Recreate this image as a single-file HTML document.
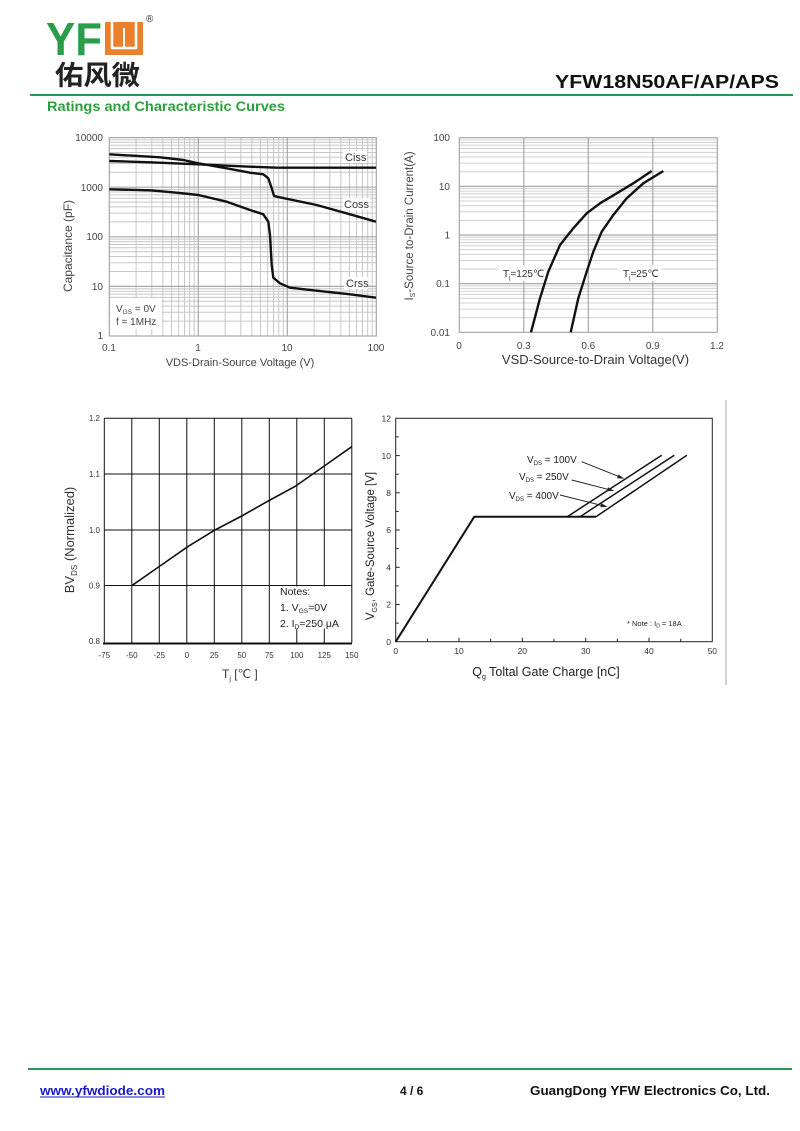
<!DOCTYPE html>
<html><head><meta charset="utf-8"><style>
html,body{margin:0;padding:0;background:#fff;}
svg{display:block;}
text{font-family:"Liberation Sans",Arial,sans-serif;}
</style></head><body>
<svg width="800" height="1131" viewBox="0 0 800 1131" xmlns="http://www.w3.org/2000/svg">
<rect width="800" height="1131" fill="#fff"/>

<!-- Header logo -->
<text x="46" y="55" font-size="46" font-weight="bold" fill="#2a9d48" textLength="56" lengthAdjust="spacingAndGlyphs">YF</text>
<rect x="105" y="22" width="38" height="33" fill="#ec7f2c"/>
<path d="M112,22 V48 H136 V22" fill="none" stroke="#fff" stroke-width="2.5"/>
<line x1="124" y1="28" x2="124" y2="48" stroke="#fff" stroke-width="2"/>
<text x="146" y="22" font-size="10" fill="#333">®</text>
<text x="55" y="85" font-size="27" font-weight="bold" fill="#222" style="font-family:'Noto Sans CJK SC','WenQuanYi Zen Hei',sans-serif" textLength="85" lengthAdjust="spacingAndGlyphs">佑风微</text>
<text x="555" y="88" font-size="18" font-weight="bold" fill="#111" textLength="224" lengthAdjust="spacingAndGlyphs">YFW18N50AF/AP/APS</text>
<line x1="30" y1="95" x2="793" y2="95" stroke="#1f9a55" stroke-width="2"/>
<text x="47" y="111" font-size="14" font-weight="bold" fill="#2f9e3f" textLength="238" lengthAdjust="spacingAndGlyphs">Ratings and Characteristic Curves</text>

<!-- ============ Chart 1: Capacitance ============ -->
<g stroke="#c8c8c8" stroke-width="1">
<line x1="136.1" y1="137.6" x2="136.1" y2="336"/><line x1="151.8" y1="137.6" x2="151.8" y2="336"/><line x1="162.9" y1="137.6" x2="162.9" y2="336"/><line x1="171.5" y1="137.6" x2="171.5" y2="336"/><line x1="178.6" y1="137.6" x2="178.6" y2="336"/><line x1="184.5" y1="137.6" x2="184.5" y2="336"/><line x1="189.7" y1="137.6" x2="189.7" y2="336"/><line x1="194.2" y1="137.6" x2="194.2" y2="336"/>
<line x1="225.1" y1="137.6" x2="225.1" y2="336"/><line x1="240.8" y1="137.6" x2="240.8" y2="336"/><line x1="251.9" y1="137.6" x2="251.9" y2="336"/><line x1="260.5" y1="137.6" x2="260.5" y2="336"/><line x1="267.6" y1="137.6" x2="267.6" y2="336"/><line x1="273.5" y1="137.6" x2="273.5" y2="336"/><line x1="278.7" y1="137.6" x2="278.7" y2="336"/><line x1="283.2" y1="137.6" x2="283.2" y2="336"/>
<line x1="314.1" y1="137.6" x2="314.1" y2="336"/><line x1="329.8" y1="137.6" x2="329.8" y2="336"/><line x1="340.9" y1="137.6" x2="340.9" y2="336"/><line x1="349.5" y1="137.6" x2="349.5" y2="336"/><line x1="356.6" y1="137.6" x2="356.6" y2="336"/><line x1="362.5" y1="137.6" x2="362.5" y2="336"/><line x1="367.7" y1="137.6" x2="367.7" y2="336"/><line x1="372.2" y1="137.6" x2="372.2" y2="336"/>
<line x1="109.3" y1="321.1" x2="376.3" y2="321.1"/><line x1="109.3" y1="312.3" x2="376.3" y2="312.3"/><line x1="109.3" y1="306.1" x2="376.3" y2="306.1"/><line x1="109.3" y1="301.3" x2="376.3" y2="301.3"/><line x1="109.3" y1="297.4" x2="376.3" y2="297.4"/><line x1="109.3" y1="294.1" x2="376.3" y2="294.1"/><line x1="109.3" y1="291.2" x2="376.3" y2="291.2"/><line x1="109.3" y1="288.7" x2="376.3" y2="288.7"/>
<line x1="109.3" y1="271.5" x2="376.3" y2="271.5"/><line x1="109.3" y1="262.7" x2="376.3" y2="262.7"/><line x1="109.3" y1="256.5" x2="376.3" y2="256.5"/><line x1="109.3" y1="251.7" x2="376.3" y2="251.7"/><line x1="109.3" y1="247.8" x2="376.3" y2="247.8"/><line x1="109.3" y1="244.5" x2="376.3" y2="244.5"/><line x1="109.3" y1="241.6" x2="376.3" y2="241.6"/><line x1="109.3" y1="239.1" x2="376.3" y2="239.1"/>
<line x1="109.3" y1="221.9" x2="376.3" y2="221.9"/><line x1="109.3" y1="213.1" x2="376.3" y2="213.1"/><line x1="109.3" y1="206.9" x2="376.3" y2="206.9"/><line x1="109.3" y1="202.1" x2="376.3" y2="202.1"/><line x1="109.3" y1="198.2" x2="376.3" y2="198.2"/><line x1="109.3" y1="194.9" x2="376.3" y2="194.9"/><line x1="109.3" y1="192.0" x2="376.3" y2="192.0"/><line x1="109.3" y1="189.5" x2="376.3" y2="189.5"/>
<line x1="109.3" y1="172.3" x2="376.3" y2="172.3"/><line x1="109.3" y1="163.5" x2="376.3" y2="163.5"/><line x1="109.3" y1="157.3" x2="376.3" y2="157.3"/><line x1="109.3" y1="152.5" x2="376.3" y2="152.5"/><line x1="109.3" y1="148.6" x2="376.3" y2="148.6"/><line x1="109.3" y1="145.3" x2="376.3" y2="145.3"/><line x1="109.3" y1="142.4" x2="376.3" y2="142.4"/><line x1="109.3" y1="139.9" x2="376.3" y2="139.9"/>
</g>
<g stroke="#a8a8a8" stroke-width="1.2">
<line x1="198.3" y1="137.6" x2="198.3" y2="336"/><line x1="287.3" y1="137.6" x2="287.3" y2="336"/>
<line x1="109.3" y1="286.4" x2="376.3" y2="286.4"/><line x1="109.3" y1="236.8" x2="376.3" y2="236.8"/><line x1="109.3" y1="187.2" x2="376.3" y2="187.2"/>
<rect x="109.3" y="137.6" width="267" height="198.4" fill="none"/>
</g>
<rect x="110.5" y="298" width="51" height="31" fill="#fff"/>
<text x="116" y="312" font-size="10" fill="#444">V<tspan font-size="6.5" dy="2">GS</tspan><tspan dy="-2"> = 0V</tspan></text>
<text x="116" y="325" font-size="10" fill="#444">f = 1MHz</text>
<rect x="343" y="151" width="24" height="12" fill="#fff"/>
<rect x="343" y="198" width="27" height="12" fill="#fff"/>
<rect x="344" y="277" width="24" height="12" fill="#fff"/>
<text x="345" y="161" font-size="11" fill="#333">Ciss</text>
<text x="344" y="208" font-size="11" fill="#333">Coss</text>
<text x="346" y="287" font-size="11" fill="#333">Crss</text>
<g fill="none" stroke="#111" stroke-width="2.4" stroke-linejoin="round">
<polyline points="109.3,161 150,162.3 198.3,164.3 230,165.8 250,166.7 276.7,167.7 376,167.7"/>
<polyline points="109.3,154.3 160,157.3 183.3,160 198.3,163.3 226.7,168.3 250,172.7 263.3,174.3 268.3,178.3 271.7,188.3 274,195.7 276.7,196.7 316.7,205 350,214.3 376,221.7"/>
<polyline points="109.3,189.3 150,190.3 176.7,192.7 198.3,195 226.7,201.7 250,210 263.3,214.3 268.3,221.7 270,235 271.7,265 273.3,277.7 280,283.3 290,287.7 316.7,290.7 350,294.3 376,297.7"/>
</g>
<g font-size="10" fill="#444" text-anchor="end">
<text x="103" y="141">10000</text><text x="103" y="191">1000</text><text x="103" y="240">100</text><text x="103" y="290">10</text><text x="103" y="339">1</text>
</g>
<g font-size="10" fill="#444" text-anchor="middle">
<text x="109" y="351">0.1</text><text x="198" y="351">1</text><text x="287" y="351">10</text><text x="376" y="351">100</text>
</g>
<text x="240" y="366" font-size="11" fill="#444" text-anchor="middle">VDS-Drain-Source  Voltage  (V)</text>
<text transform="translate(72,246) rotate(-90)" font-size="12" fill="#444" text-anchor="middle">Capacitance  (pF)</text>

<!-- ============ Chart 2: Source-drain ============ -->
<g stroke="#d0d0d0" stroke-width="1">
<line x1="459.3" y1="317.7" x2="717.3" y2="317.7"/><line x1="459.3" y1="309.1" x2="717.3" y2="309.1"/><line x1="459.3" y1="303.0" x2="717.3" y2="303.0"/><line x1="459.3" y1="298.3" x2="717.3" y2="298.3"/><line x1="459.3" y1="294.4" x2="717.3" y2="294.4"/><line x1="459.3" y1="291.2" x2="717.3" y2="291.2"/><line x1="459.3" y1="288.4" x2="717.3" y2="288.4"/><line x1="459.3" y1="285.9" x2="717.3" y2="285.9"/>
<line x1="459.3" y1="269.05" x2="717.3" y2="269.05"/><line x1="459.3" y1="260.45" x2="717.3" y2="260.45"/><line x1="459.3" y1="254.35" x2="717.3" y2="254.35"/><line x1="459.3" y1="249.65" x2="717.3" y2="249.65"/><line x1="459.3" y1="245.75" x2="717.3" y2="245.75"/><line x1="459.3" y1="242.55" x2="717.3" y2="242.55"/><line x1="459.3" y1="239.75" x2="717.3" y2="239.75"/><line x1="459.3" y1="237.25" x2="717.3" y2="237.25"/>
<line x1="459.3" y1="220.4" x2="717.3" y2="220.4"/><line x1="459.3" y1="211.8" x2="717.3" y2="211.8"/><line x1="459.3" y1="205.7" x2="717.3" y2="205.7"/><line x1="459.3" y1="201.0" x2="717.3" y2="201.0"/><line x1="459.3" y1="197.1" x2="717.3" y2="197.1"/><line x1="459.3" y1="193.9" x2="717.3" y2="193.9"/><line x1="459.3" y1="191.1" x2="717.3" y2="191.1"/><line x1="459.3" y1="188.6" x2="717.3" y2="188.6"/>
<line x1="459.3" y1="171.75" x2="717.3" y2="171.75"/><line x1="459.3" y1="163.15" x2="717.3" y2="163.15"/><line x1="459.3" y1="157.05" x2="717.3" y2="157.05"/><line x1="459.3" y1="152.35" x2="717.3" y2="152.35"/><line x1="459.3" y1="148.45" x2="717.3" y2="148.45"/><line x1="459.3" y1="145.25" x2="717.3" y2="145.25"/><line x1="459.3" y1="142.45" x2="717.3" y2="142.45"/><line x1="459.3" y1="139.95" x2="717.3" y2="139.95"/>
</g>
<g stroke="#a8a8a8" stroke-width="1.2">
<line x1="523.8" y1="137.7" x2="523.8" y2="332.3"/><line x1="588.3" y1="137.7" x2="588.3" y2="332.3"/><line x1="652.8" y1="137.7" x2="652.8" y2="332.3"/>
<line x1="459.3" y1="283.65" x2="717.3" y2="283.65"/><line x1="459.3" y1="235" x2="717.3" y2="235"/><line x1="459.3" y1="186.35" x2="717.3" y2="186.35"/>
<rect x="459.3" y="137.7" width="258" height="194.6" fill="none"/>
</g>
<rect x="499" y="265" width="45" height="16" fill="#fff"/>
<rect x="618" y="265" width="44" height="16" fill="#fff"/>
<text x="503" y="277" font-size="10" fill="#333">T<tspan font-size="6" dy="2">j</tspan><tspan dy="-2">=125℃</tspan></text>
<text x="623" y="277" font-size="10" fill="#333">T<tspan font-size="6" dy="2">j</tspan><tspan dy="-2">=25℃</tspan></text>
<g fill="none" stroke="#111" stroke-width="2.4" stroke-linejoin="round">
<polyline points="531,332.3 540,298.3 548.3,271.7 560,245 573.3,228.3 586.7,213.3 600,203.3 616.7,193.3 633.3,183.3 651.7,171"/>
<polyline points="570.7,332.3 578.3,298.3 586.7,271.7 593.3,251.7 601.7,231.7 613.3,215 626.7,198.3 643.3,183.3 663.3,171"/>
</g>
<g font-size="10" fill="#444" text-anchor="end">
<text x="450" y="141">100</text><text x="450" y="190">10</text><text x="450" y="238.5">1</text><text x="450" y="287">0.1</text><text x="450" y="336">0.01</text>
</g>
<g font-size="10" fill="#444" text-anchor="middle">
<text x="459" y="349">0</text><text x="523.8" y="349">0.3</text><text x="588.3" y="349">0.6</text><text x="652.8" y="349">0.9</text><text x="717" y="349">1.2</text>
</g>
<text x="595.5" y="364" font-size="13" fill="#333" text-anchor="middle">VSD-Source-to-Drain Voltage(V)</text>
<text transform="translate(413,226) rotate(-90)" font-size="11.5" fill="#444" text-anchor="middle">I<tspan font-size="7" dy="2">S</tspan><tspan dy="-2">-Source  to-Drain Current(A)</tspan></text>

<!-- ============ Chart 3: BVDS ============ -->
<g stroke="#111" stroke-width="1">
<line x1="131.8" y1="418.3" x2="131.8" y2="643"/><line x1="159.3" y1="418.3" x2="159.3" y2="643"/><line x1="186.8" y1="418.3" x2="186.8" y2="643"/><line x1="214.3" y1="418.3" x2="214.3" y2="643"/><line x1="241.8" y1="418.3" x2="241.8" y2="643"/><line x1="269.3" y1="418.3" x2="269.3" y2="643"/><line x1="296.8" y1="418.3" x2="296.8" y2="643"/><line x1="324.3" y1="418.3" x2="324.3" y2="643"/>
<line x1="104.3" y1="474" x2="351.8" y2="474"/><line x1="104.3" y1="530" x2="351.8" y2="530"/><line x1="104.3" y1="585.5" x2="351.8" y2="585.5"/>
<line x1="104.3" y1="418.3" x2="351.8" y2="418.3"/>
<line x1="104.3" y1="418.3" x2="104.3" y2="643"/><line x1="351.8" y1="418.3" x2="351.8" y2="643"/>
</g>
<line x1="103" y1="643.5" x2="352" y2="643.5" stroke="#111" stroke-width="2"/>
<rect x="278" y="586.5" width="60" height="42" fill="#fff"/>
<text x="280" y="595" font-size="10.5" fill="#222">Notes:</text>
<text x="280" y="611" font-size="10.5" fill="#222">1. V<tspan font-size="6.5" dy="2">GS</tspan><tspan dy="-2">=0V</tspan></text>
<text x="280" y="627" font-size="10.5" fill="#222">2. I<tspan font-size="6.5" dy="2">D</tspan><tspan dy="-2">=250 μA</tspan></text>
<polyline points="132.3,585.3 160,566 187.7,546.7 215,530 241.7,516 270,500 295,486.5 324.3,466 351.7,446.7" fill="none" stroke="#111" stroke-width="1.6"/>
<g font-size="8" fill="#333" text-anchor="end">
<text x="100" y="421">1.2</text><text x="100" y="477">1.1</text><text x="100" y="533">1.0</text><text x="100" y="588.5">0.9</text><text x="100" y="644">0.8</text>
</g>
<g font-size="8" fill="#333" text-anchor="middle">
<text x="104.3" y="658">-75</text><text x="131.8" y="658">-50</text><text x="159.3" y="658">-25</text><text x="186.8" y="658">0</text><text x="214.3" y="658">25</text><text x="241.8" y="658">50</text><text x="269.3" y="658">75</text><text x="296.8" y="658">100</text><text x="324.3" y="658">125</text><text x="351.8" y="658">150</text>
</g>
<text x="222" y="678" font-size="12" fill="#333">T<tspan font-size="7" dy="3">j</tspan><tspan dy="-3"> [℃ ]</tspan></text>
<text transform="translate(74,540) rotate(-90)" font-size="13" fill="#333" text-anchor="middle">BV<tspan font-size="8" dy="3">DS</tspan><tspan dy="-3">  (Normalized)</tspan></text>

<!-- ============ Chart 4: Gate charge ============ -->
<rect x="395.7" y="418.3" width="316.6" height="223.4" fill="none" stroke="#222" stroke-width="1"/>
<g stroke="#222" stroke-width="1">
<line x1="427.4" y1="641.7" x2="427.4" y2="638.7"/><line x1="459" y1="641.7" x2="459" y2="637.7"/><line x1="490.7" y1="641.7" x2="490.7" y2="638.7"/><line x1="522.3" y1="641.7" x2="522.3" y2="637.7"/><line x1="554" y1="641.7" x2="554" y2="638.7"/><line x1="585.7" y1="641.7" x2="585.7" y2="637.7"/><line x1="617.3" y1="641.7" x2="617.3" y2="638.7"/><line x1="649" y1="641.7" x2="649" y2="637.7"/><line x1="680.7" y1="641.7" x2="680.7" y2="638.7"/>
<line x1="395.7" y1="623.1" x2="398.7" y2="623.1"/><line x1="395.7" y1="604.5" x2="399.7" y2="604.5"/><line x1="395.7" y1="585.9" x2="398.7" y2="585.9"/><line x1="395.7" y1="567.3" x2="399.7" y2="567.3"/><line x1="395.7" y1="548.6" x2="398.7" y2="548.6"/><line x1="395.7" y1="530" x2="399.7" y2="530"/><line x1="395.7" y1="511.4" x2="398.7" y2="511.4"/><line x1="395.7" y1="492.8" x2="399.7" y2="492.8"/><line x1="395.7" y1="474.2" x2="398.7" y2="474.2"/><line x1="395.7" y1="455.6" x2="399.7" y2="455.6"/><line x1="395.7" y1="436.9" x2="398.7" y2="436.9"/>
</g>
<g fill="none" stroke="#111" stroke-linejoin="round">
<polyline points="395.7,641.7 474.3,516.7 596,516.7" stroke-width="2"/>
<line x1="567.3" y1="516.7" x2="661.7" y2="455.3" stroke-width="1.5"/>
<line x1="580" y1="516.7" x2="674.3" y2="455.3" stroke-width="1.5"/>
<line x1="596" y1="516.7" x2="686.9" y2="455.3" stroke-width="1.5"/>
</g>
<g stroke="#222" stroke-width="1">
<line x1="581.7" y1="461.7" x2="623.3" y2="478.3"/><line x1="571.7" y1="480" x2="613.3" y2="490.7"/><line x1="560" y1="495" x2="606.7" y2="506.7"/>
</g>
<g fill="#222">
<polygon points="624,478.6 617,478.2 618.6,474.5"/>
<polygon points="614,490.9 607,491.2 608,487.3"/>
<polygon points="607.4,506.9 600.4,507.2 601.4,503.3"/>
</g>
<text x="527" y="463" font-size="10" fill="#222">V<tspan font-size="6" dy="2">DS</tspan><tspan dy="-2"> = 100V</tspan></text>
<text x="519" y="480" font-size="10" fill="#222">V<tspan font-size="6" dy="2">DS</tspan><tspan dy="-2"> = 250V</tspan></text>
<text x="509" y="499" font-size="10" fill="#222">V<tspan font-size="6" dy="2">DS</tspan><tspan dy="-2"> = 400V</tspan></text>
<text x="627" y="626" font-size="7.5" fill="#222">* Note : I<tspan font-size="5" dy="1.5">D</tspan><tspan dy="-1.5"> = 18A</tspan></text>
<g font-size="8.5" fill="#333" text-anchor="end">
<text x="391" y="421.5">12</text><text x="391" y="458.8">10</text><text x="391" y="496">8</text><text x="391" y="533.2">6</text><text x="391" y="570.5">4</text><text x="391" y="607.7">2</text><text x="391" y="644.9">0</text>
</g>
<g font-size="8.5" fill="#333" text-anchor="middle">
<text x="395.7" y="654">0</text><text x="459" y="654">10</text><text x="522.3" y="654">20</text><text x="585.7" y="654">30</text><text x="649" y="654">40</text><text x="712.3" y="654">50</text>
</g>
<text x="546" y="676" font-size="12.5" fill="#222" text-anchor="middle">Q<tspan font-size="7" dy="3">g</tspan><tspan dy="-3"> Toltal Gate Charge [nC]</tspan></text>
<text transform="translate(374,546) rotate(-90)" font-size="11.5" fill="#222" text-anchor="middle">V<tspan font-size="7" dy="3">GS</tspan><tspan dy="-3">, Gate-Source Voltage [V]</tspan></text>
<line x1="726" y1="400" x2="726" y2="685" stroke="#d4d4d4" stroke-width="2"/>

<!-- Footer -->
<line x1="28" y1="1069" x2="792" y2="1069" stroke="#1f9a55" stroke-width="2"/>
<text x="40" y="1095" font-size="13" font-weight="bold" fill="#1a1acc" textLength="125" lengthAdjust="spacingAndGlyphs">www.yfwdiode.com</text>
<line x1="40" y1="1097" x2="165" y2="1097" stroke="#1a1acc" stroke-width="1"/>
<text x="400" y="1095" font-size="12" font-weight="bold" fill="#111">4 / 6</text>
<text x="530" y="1095" font-size="13" font-weight="bold" fill="#111" textLength="240" lengthAdjust="spacingAndGlyphs">GuangDong YFW Electronics Co, Ltd.</text>
</svg>
</body></html>
